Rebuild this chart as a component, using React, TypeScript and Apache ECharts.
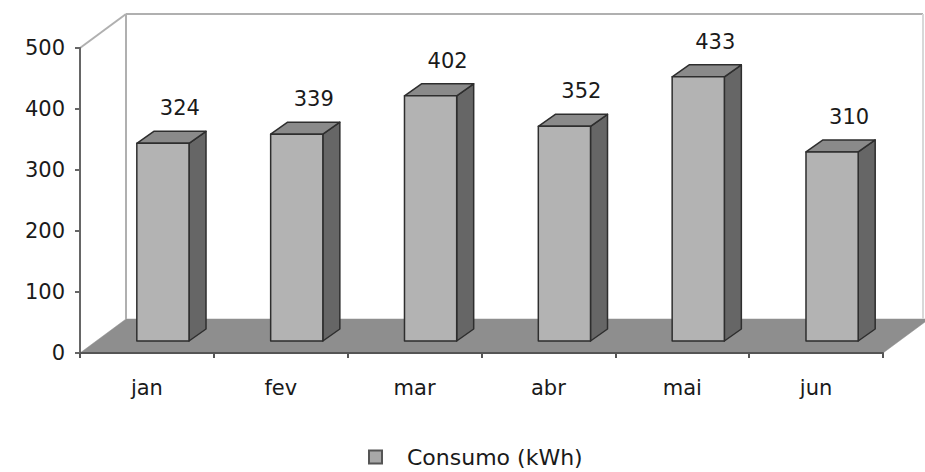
import React, { useEffect, useRef } from "react";
import * as echarts from "echarts";

const categories = ["jan", "fev", "mar", "abr", "mai", "jun"];
const values = [324, 339, 402, 352, 433, 310];
const seriesName = "Consumo (kWh)";
const yMin = 0;
const yMax = 500;
const yInterval = 100;

const FONT = '"DejaVu Sans", "Open Sans", sans-serif';
// depth of the 3D box (floor / walls)
const DX = 46;
const DY = -34;
// bar placement inside depth
const BFX = 16;
const BFY = -12;
const BDX = 17;
const BDY = -12;

export default function App() {
  const ref = useRef<HTMLDivElement>(null);
  useEffect(() => {
    if (!ref.current) return;
    const chart = echarts.init(ref.current, null, { renderer: "svg" });
    const option: any = {
      animation: false,
      backgroundColor: "#ffffff",
      textStyle: { fontFamily: FONT },
      grid: { left: 80, right: 42, top: 48, bottom: 119, containLabel: false },
      legend: {
        data: [{ name: seriesName, icon: "rect" }],
        left: 368,
        top: 446,
        itemWidth: 13,
        itemHeight: 13,
        itemGap: 0,
        padding: 0,
        itemStyle: { color: "#a8a8a8", borderColor: "#555555", borderWidth: 2 },
        textStyle: { fontFamily: FONT, fontSize: 22, color: "#1a1a1a", padding: [0, 0, 0, 20] },
        selectedMode: false,
      },
      xAxis: {
        type: "category",
        data: categories,
        axisLine: { show: true, lineStyle: { color: "#555", width: 2 } },
        axisTick: { show: true, length: 5, lineStyle: { color: "#555", width: 2 } },
        axisLabel: { color: "#1a1a1a", fontSize: 21, fontFamily: FONT, margin: 24 },
        splitLine: { show: false },
        z: 5,
      },
      yAxis: {
        type: "value",
        min: yMin,
        max: yMax,
        interval: yInterval,
        axisLine: { show: true, lineStyle: { color: "#666", width: 2 } },
        axisTick: { show: true, length: 5, lineStyle: { color: "#666", width: 2 } },
        axisLabel: { color: "#1a1a1a", fontSize: 21, fontFamily: FONT, margin: 15 },
        splitLine: { show: false },
        z: 5,
      },
      series: [
        {
          type: "custom",
          name: "floor",
          silent: true,
          z: 1,
          data: [[0, 0]],
          encode: { x: 0, y: 1 },
          renderItem: (params: any) => {
            const cs = params.coordSys;
            const x0 = cs.x;
            const x1 = cs.x + cs.width;
            const yT = cs.y;
            const yB = cs.y + cs.height;
            const wallStroke = { stroke: "#b0b0b0", lineWidth: 2 };
            return {
              type: "group",
              children: [
                {
                  type: "polygon",
                  shape: { points: [[x0, yB], [x1, yB], [x1 + DX, yB + DY], [x0 + DX, yB + DY]] },
                  style: { fill: "#8e8e8e", stroke: "#8e8e8e", lineWidth: 0.5 },
                },
                { type: "line", shape: { x1: x0, y1: yT, x2: x0 + DX, y2: yT + DY }, style: wallStroke },
                { type: "line", shape: { x1: x0 + DX, y1: yT + DY, x2: x0 + DX, y2: yB + DY }, style: wallStroke },
                { type: "line", shape: { x1: x0 + DX, y1: yT + DY, x2: x1 + DX - 6, y2: yT + DY }, style: wallStroke },
                { type: "line", shape: { x1: x1 + DX - 6, y1: yT + DY, x2: x1 + DX - 6, y2: yB + DY }, style: { stroke: "#d8d8d8", lineWidth: 2 } },
              ],
            };
          },
        },
        {
          type: "custom",
          name: seriesName,
          z: 2,
          itemStyle: { color: "#b3b3b3" },
          data: values.map((v, i) => [i, v]),
          encode: { x: 0, y: 1 },
          renderItem: (params: any, api: any) => {
            const i = api.value(0);
            const v = api.value(1);
            const top = api.coord([i, v]);
            const base = api.coord([i, 0]);
            const band = api.size([1, 0])[0];
            const half = band * 0.195;
            const cx = top[0] + BFX;
            const l = cx - half;
            const r = cx + half;
            const t = top[1] + BFY;
            const b = base[1] + BFY;
            const stroke = { stroke: "#2e2e2e", lineWidth: 1.5, lineJoin: "round" };
            return {
              type: "group",
              children: [
                {
                  type: "polygon",
                  shape: { points: [[r, t], [r + BDX, t + BDY], [r + BDX, b + BDY], [r, b]] },
                  style: { fill: "#666666", ...stroke },
                },
                {
                  type: "polygon",
                  shape: { points: [[l, t], [l + BDX, t + BDY], [r + BDX, t + BDY], [r, t]] },
                  style: { fill: "#8a8a8a", ...stroke },
                },
                {
                  type: "polygon",
                  shape: { points: [[l, t], [r, t], [r, b], [l, b]] },
                  style: { fill: "#b3b3b3", ...stroke },
                },
                {
                  type: "text",
                  x: cx + BDX,
                  y: t + BDY - 23,
                  style: {
                    text: String(v),
                    fill: "#1a1a1a",
                    fontSize: 21,
                    fontFamily: FONT,
                    align: "center",
                    verticalAlign: "middle",
                  },
                },
              ],
            };
          },
        },
      ],
    };
    chart.setOption(option);
    return () => chart.dispose();
  }, []);
  return (
    <div
      ref={ref}
      style={{ position: "absolute", left: 0, top: 0, width: 925, height: 472, background: "#fff" }}
    />
  );
}
